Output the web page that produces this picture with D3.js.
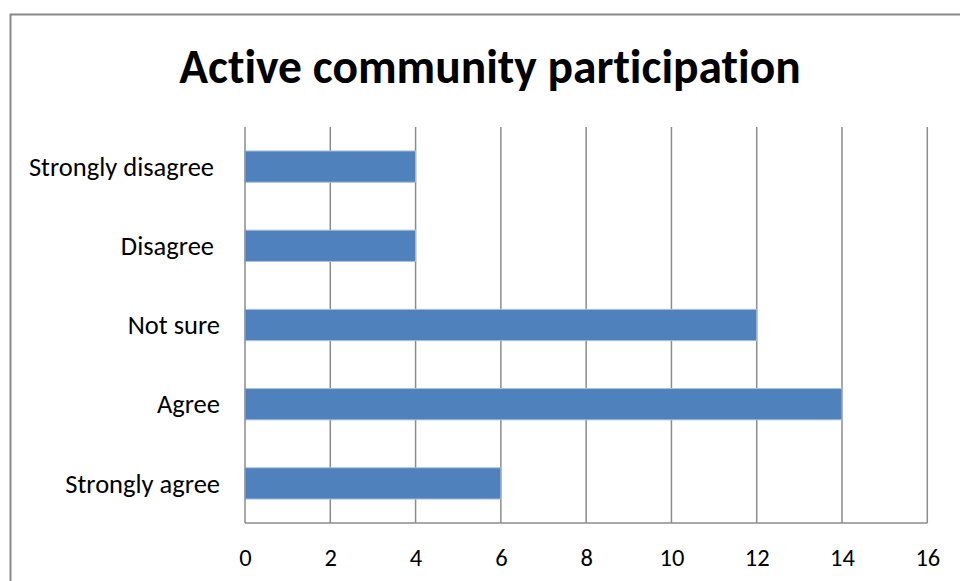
<!DOCTYPE html>
<html>
<head>
<meta charset="utf-8">
<script src="https://cdn.jsdelivr.net/npm/d3@7"></script>
<style>
  html, body { margin: 0; padding: 0; background: #fff; }
  svg text { font-family: Carlito, Lato, "Open Sans", sans-serif; font-variant-ligatures: none; }
</style>
</head>
<body>
<svg id="chart" width="960" height="581"></svg>
<script>
// Survey responses
const categories = ["Strongly disagree ", "Disagree ", "Not sure", "Agree", "Strongly agree"];
const counts = [4, 4, 12, 14, 6];
const tickValues = [0, 2, 4, 6, 8, 10, 12, 14, 16];
const chartTitle = "Active community participation";

const svg = d3.select("#chart");
const margin = { left: 245, right: 32.7, top: 127, bottom: 58 };
const W = 960, H = 581;
const fontStack = "Carlito, Lato, 'Open Sans', sans-serif";

// outer frame
svg.append("rect")
  .attr("x", 10.5).attr("y", 14.5)
  .attr("width", 960).attr("height", 600)
  .attr("fill", "none").attr("stroke", "#898989").attr("stroke-width", 2);

const x = d3.scaleLinear().domain([0, 16]).range([margin.left, W - margin.right]);
const y = d3.scaleBand().domain(categories)
  .range([margin.top, H - margin.bottom])
  .paddingInner(0.605).paddingOuter(0.3025);

// vertical gridlines
svg.append("g").selectAll("line").data(tickValues.filter(d => d > 0)).join("line")
  .attr("x1", d => x(d)).attr("x2", d => x(d))
  .attr("y1", margin.top).attr("y2", H - margin.bottom)
  .attr("stroke", "#8c8c8c").attr("stroke-width", 1.5);

// bars
svg.append("g").selectAll("rect").data(categories).join("rect")
  .attr("x", x(0))
  .attr("y", d => y(d))
  .attr("width", (d, i) => x(counts[i]) - x(0))
  .attr("height", y.bandwidth())
  .attr("fill", "#4f81bd")
  .attr("stroke", "#a9c0e0").attr("stroke-width", 1);

// axis lines
svg.append("line")
  .attr("x1", x(0)).attr("x2", x(0))
  .attr("y1", margin.top).attr("y2", H - margin.bottom)
  .attr("stroke", "#8c8c8c").attr("stroke-width", 1.5);
svg.append("line")
  .attr("x1", x(0)).attr("x2", x(16))
  .attr("y1", H - margin.bottom).attr("y2", H - margin.bottom)
  .attr("stroke", "#8c8c8c").attr("stroke-width", 1.5);

// x tick labels
const xAxis = d3.axisBottom(x).tickValues(tickValues).tickSize(0).tickPadding(0);
const gx = svg.append("g").attr("transform", `translate(0,${H - margin.bottom})`).call(xAxis);
gx.select(".domain").remove();
gx.selectAll("text")
  .attr("y", 43).attr("dy", null)
  .attr("font-size", 24.5).attr("fill", "#000")
  .style("font-family", fontStack);

// category labels
const yAxis = d3.axisLeft(y).tickSize(0).tickPadding(0);
const gy = svg.append("g").attr("transform", `translate(${margin.left - 25},0)`).call(yAxis);
gy.select(".domain").remove();
gy.selectAll("text")
  .attr("font-size", 26.5).attr("fill", "#000")
  .attr("dy", "0.35em")
  .style("white-space", "pre")
  .style("font-family", fontStack);

// title
svg.append("text")
  .attr("x", 490).attr("y", 83)
  .attr("text-anchor", "middle")
  .attr("font-size", 47.5).attr("font-weight", "bold")
  .attr("fill", "#000")
  .text(chartTitle);
</script>
</body>
</html>
